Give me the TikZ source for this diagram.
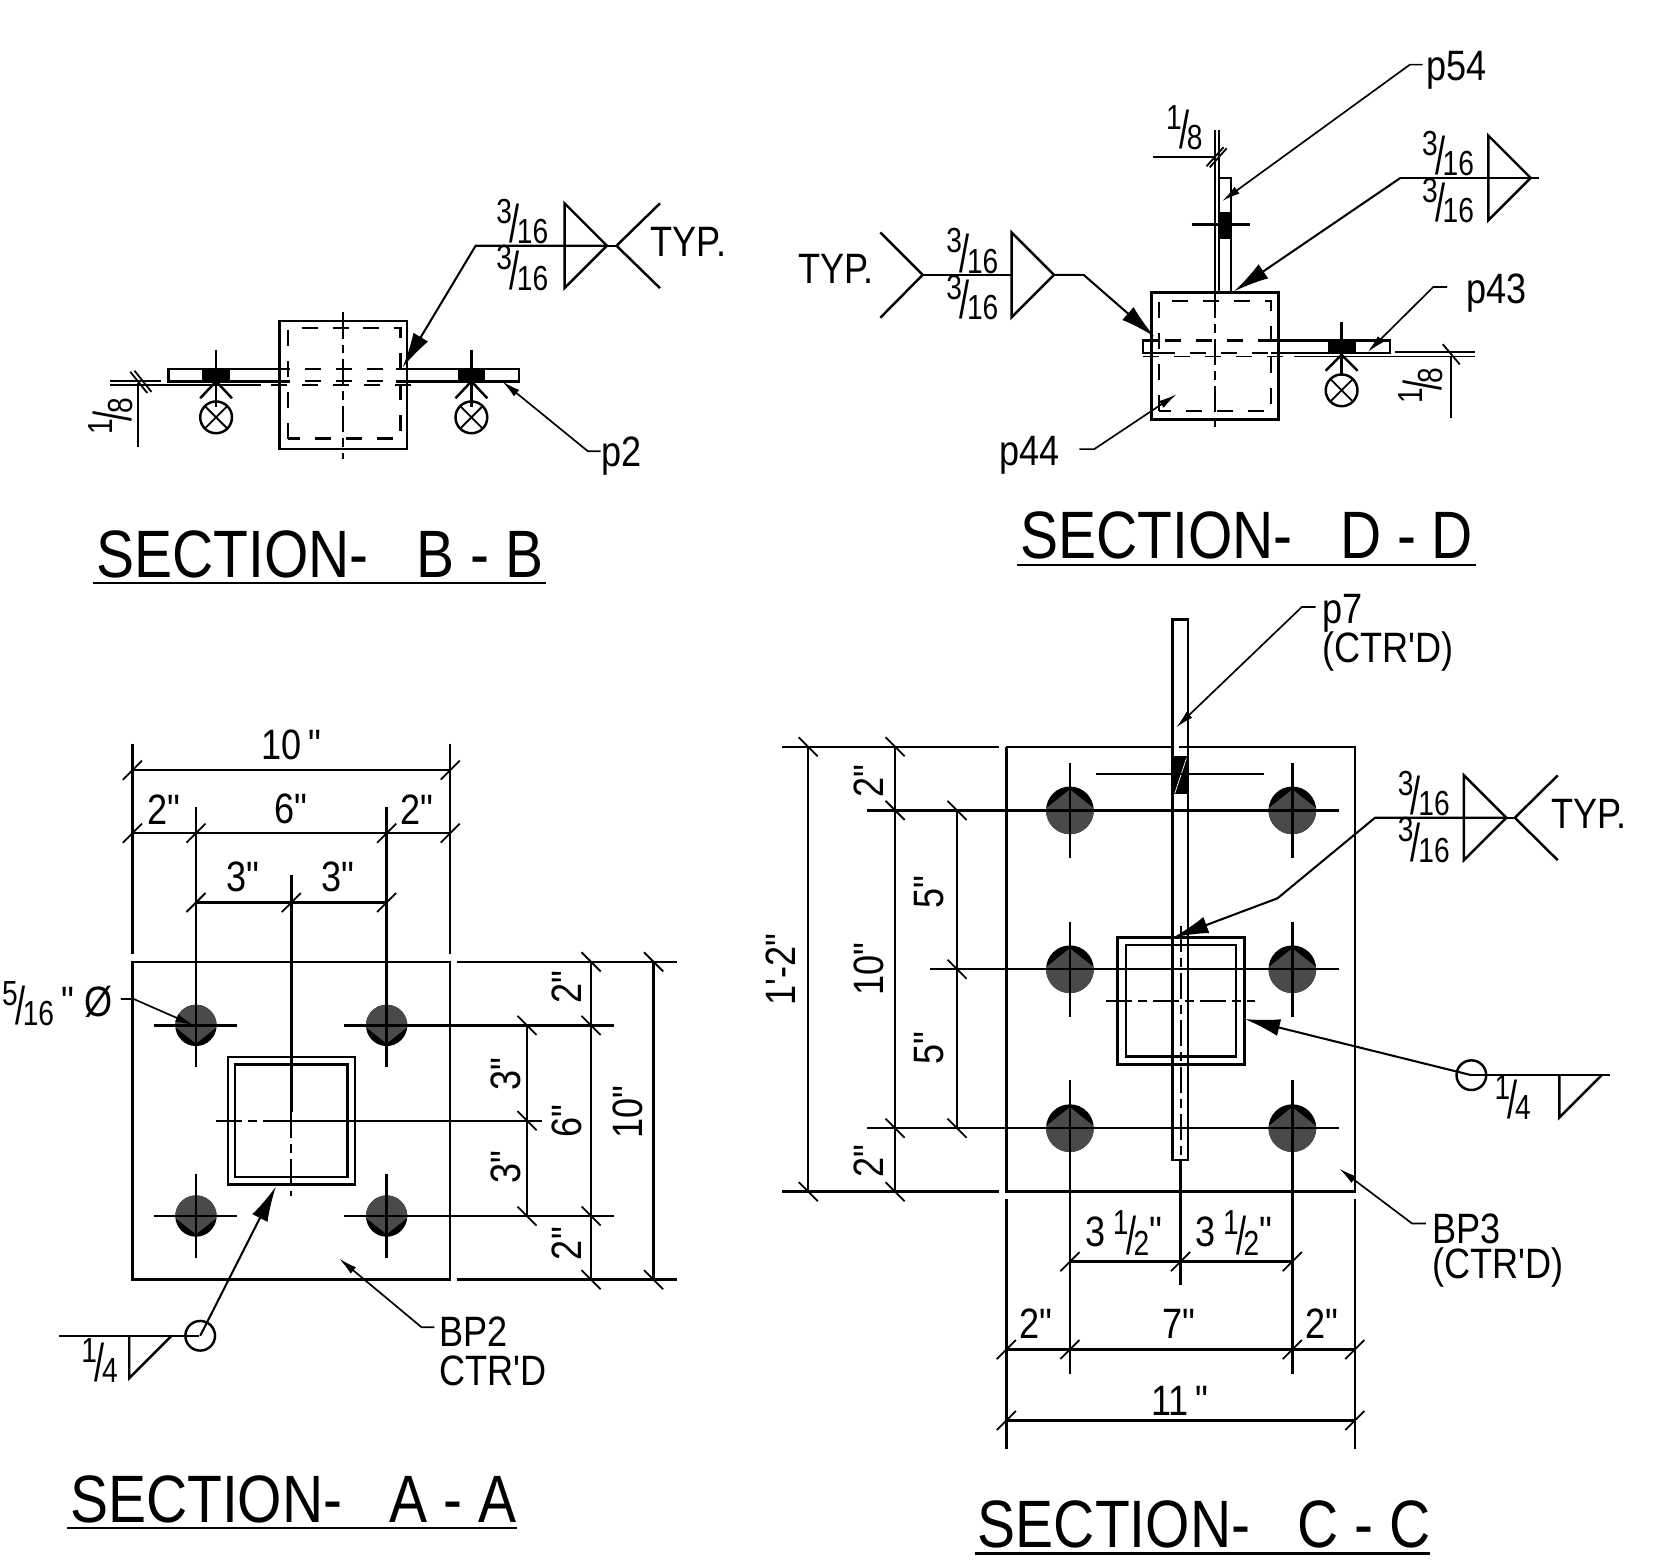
\documentclass[tikz,border=0pt]{standalone}
\usepackage{fontspec}
\setmainfont[FakeStretch=0.85,Ligatures=TeXOff]{Liberation Sans}
\usepackage{tikz,tkz-euclide}
\usetikzlibrary{arrows,arrows.meta,calc}
\definecolor{boltgrey}{rgb}{0.29, 0.29, 0.29}
\tikzset{
    cad/.style={line width=0.66pt,line cap=butt},
    fine/.style={line width=0.48pt},
    hidden/.style={line width=0.6pt,dash pattern=on 4.3pt off 4pt},
    centre/.style={line width=0.55pt,dash pattern=on 7pt off 1.6pt on 2.4pt off 1.6pt},
    bigtip/.style={line width=0.55pt,-{Latex[length=9.5pt,width=4.6pt]}},
    smalltip/.style={line width=0.45pt,-{Latex[length=5pt,width=2.2pt]}},
    dimtext/.style={inner sep=0pt,font=\fontsize{11.4}{12}\selectfont},
    titletext/.style={inner sep=0pt,anchor=base west,font=\fontsize{18}{20}\selectfont}
}
% dimension ticks: horizontal run and vertical run
\newcommand{\htick}[2]{\draw[fine] ({#1-9},{#2+9}) -- ({#1+9},{#2-9});}
\newcommand{\vtick}[2]{\draw[fine] ({#1-9},{#2-9}) -- ({#1+9},{#2+9});}
% weld size fraction
\newcommand{\wfrac}[2]{\rule[-.2em]{0pt}{.95em}\smash{\raisebox{.28em}{\scalebox{.78}[.82]{#1}}\kern-.06em\raisebox{-.17em}{\scalebox{1}[1.25]{/}}\kern-.06em\raisebox{-.2em}{\scalebox{.78}[.82]{#2}}}}
% bolt: x, y, radius, 1 = black at the foot, -1 = black at the head
\newcommand{\boltdisc}[4]{
    \begin{scope}[shift={(#1,#2)},yscale=#4]
        \fill[black] (0,0) circle[radius=#3];
        \fill[boltgrey] (5:#3) arc[start angle=5,end angle=-185,radius=#3] -- (0,{0.88*#3}) -- cycle;
    \end{scope}
}
% double fillet symbol: x of the upright, y of the reference line
\newcommand{\doublefillet}[2]{\draw[cad] (#1,{#2-40}) -- ({#1+40},#2) -- (#1,{#2+40}) -- cycle;}

\begin{document}
\begin{tikzpicture}[x=0.01cm,y=-0.01cm,cad]
    \useasboundingbox (0,0) rectangle (1568,1480);

    % ---- SECTION B-B
    \draw (264,303) rectangle (384,424);
    \draw[hidden] (272,414) -- (272,310) -- (378,310) -- (378,414) -- cycle;
    \draw[centre] (324,295) -- (324,433);
    \draw (274,348.5) -- (159,348.5) -- (159,360) -- (274,360);
    \draw (374,348.5) -- (490,348.5) -- (490,360) -- (374,360);
    \draw[hidden] (288,348.5) -- (374,348.5);
    \draw[hidden,line width=0.45pt] (288,359.5) -- (374,359.5);
    \draw[fine] (104,359.5) -- (152,359.5);
    \draw[fine] (104,363.5) -- (246,363.5);
    \draw[hidden,line width=0.45pt] (256,363.5) -- (396,363.5);
    \draw[fine] (123,351) -- (139,371) (127,350) -- (143,370);
    \draw[fine] (130,362) -- (130,422);
    \node[dimtext,rotate=90] (bbeighth) at (106,393) {\wfrac{1}{8}};
    \foreach \xp in {204,445}{
        \fill (\xp-13,348.5) rectangle (\xp+13,360);
        \draw (\xp,330) -- (\xp,384);
        \draw (\xp-15,376) -- (\xp,360) -- (\xp+15,376);
        \tkzDefPoint(\xp,394){Ba}
        \tkzDefPoint(\xp+15,394){Bb}
        \tkzDrawCircle[cad,color=black](Ba,Bb)
        \draw[fine] (\xp-10,384) -- (\xp+10,404) (\xp-10,404) -- (\xp+10,384);
    }
    \tkzDefPoints{380/347/Bs,449/232/Bt,574/232/Bu}
    \draw[bigtip] (Bu) -- (Bt) -- (Bs);
    \doublefillet{533}{232}
    \draw (574,232) -- (582,232);
    \draw (623,192) -- (582,232) -- (623,272);
    \node[dimtext] (bbup) at (493,211) {\wfrac{3}{16}};
    \node[dimtext] (bbdown) at (493,255) {\wfrac{3}{16}};
    \node[dimtext] (bbtyp) at (650,228) {TYP.};
    \tkzDefPoints{474/360/Bp,555/426/Bq,567/426/Br}
    \draw[smalltip] (Br) -- (Bq) -- (Bp);
    \node[dimtext] (bbpart) at (587,431) {p2};
    \node[titletext] (bbtitle) at (90,545) {SECTION-\ \ \ B - B};
    \draw (88,550.5) -- (515,550.5);

    % ---- SECTION D-D
    \draw (1087,276) rectangle (1207,396);
    \draw[hidden] (1094,388) -- (1094,284) -- (1200,284) -- (1200,388) -- cycle;
    \draw[centre] (1147,276) -- (1147,408);
    \draw[fine] (1147,123) -- (1147,276) (1150.5,123) -- (1150.5,276);
    \draw (1150.5,276) -- (1150.5,168) -- (1162,168) -- (1162,276);
    \fill (1150.5,200) rectangle (1162,226);
    \draw (1125,212) -- (1180,212);
    \draw[fine] (1088,148) -- (1147,148);
    \draw[fine] (1139,157) -- (1155,139) (1142,158) -- (1158,140);
    \node[dimtext] (ddeighth) at (1118,122) {\wfrac{1}{8}};
    \draw (1094,321.5) -- (1079,321.5) -- (1079,333.5) -- (1094,333.5);
    \draw (1200,321.5) -- (1312,321.5) -- (1312,333.5) -- (1200,333.5);
    \draw[hidden] (1100,321.5) -- (1200,321.5);
    \draw[hidden,line width=0.45pt] (1094,333) -- (1200,333);
    \draw[hidden,line width=0.45pt] (1079,336.5) -- (1222,336.5);
    \draw[fine] (1222,336.5) -- (1392,336.5);
    \draw[fine] (1317,332.5) -- (1392,332.5);
    \draw[fine] (1362,325) -- (1378,344);
    \draw[fine] (1369.5,336) -- (1369.5,395);
    \node[dimtext,rotate=90] (ddlow) at (1343,364) {\wfrac{1}{8}};
    \fill (1254,321.5) rectangle (1280,333.5);
    \draw (1266.5,304) -- (1266.5,355);
    \draw (1251.5,350) -- (1266.5,335) -- (1281.5,350);
    \tkzDefPoint(1266.5,368.5){Da}
    \tkzDefPoint(1281.5,368.5){Db}
    \tkzDrawCircle[cad,color=black](Da,Db)
    \draw[fine] (1256.5,358.5) -- (1276.5,378.5) (1256.5,378.5) -- (1276.5,358.5);
    \draw (1322,168) -- (1453,168);
    \doublefillet{1405}{168}
    \node[dimtext] (ddupa) at (1367,147) {\wfrac{3}{16}};
    \node[dimtext] (ddupb) at (1367,191) {\wfrac{3}{16}};
    \tkzDefPoints{1322/168/Dp,1165/275/Ds}
    \draw[bigtip] (Dp) -- (Ds);
    \tkzDefPoints{1153.5/190/Dt,1331/61/Du,1343/61/Dv}
    \draw[smalltip] (Dv) -- (Du) -- (Dt);
    \node[dimtext] (ddpa) at (1375,66) {p54};
    \tkzDefPoints{1291/332.5/Dw,1353/271/Dx,1366/271/Dy}
    \draw[smalltip] (Dy) -- (Dx) -- (Dw);
    \node[dimtext] (ddpb) at (1413,277) {p43};
    \tkzDefPoints{1111/372/Dz,1033/424/Ea,1019/424/Eb}
    \draw[smalltip] (Eb) -- (Ea) -- (Dz);
    \node[dimtext] (ddpc) at (972,430) {p44};
    \draw (831,219.5) -- (871,259.5) -- (831,300);
    \draw (871,259.5) -- (955,259.5);
    \doublefillet{955}{259.5}
    \tkzDefPoints{995/259.5/Ec,1023/259.5/Ed,1090/318/Ee}
    \draw[bigtip] (Ec) -- (Ed) -- (Ee);
    \node[dimtext] (ddlefta) at (918,239) {\wfrac{3}{16}};
    \node[dimtext] (ddleftb) at (918,283) {\wfrac{3}{16}};
    \node[dimtext] (ddtyp) at (789,254) {TYP.};
    \node[titletext] (ddtitle) at (962,527) {SECTION-\ \ \ D - D};
    \draw (960,533.5) -- (1393,533.5);

    % ---- SECTION A-A
    \draw (125,908) rectangle (425,1208);
    \foreach \xp in {185,365}{
        \foreach \yp in {968,1148}{
            \boltdisc{\xp}{\yp}{19.5}{1}
        }
    }
    \draw (215,998) rectangle (335,1118);
    \draw (222,1005) rectangle (328,1111);
    \draw (145,968) -- (224,968) (145,1148) -- (224,1148);
    \draw (325,968) -- (580,968) (325,1148) -- (580,1148);
    \draw (185,762) -- (185,1007) (365,762) -- (365,1007);
    \draw (185,1108) -- (185,1188) (365,1108) -- (365,1188);
    \draw (125,702) -- (125,901) (425,702) -- (425,901);
    \draw (275,826) -- (275,1050);
    \draw[centre] (275,1050) -- (275,1129);
    \draw[centre] (204,1058) -- (270,1058);
    \draw (270,1058) -- (512,1058);
    \draw (431,908) -- (639,908) (431,1208) -- (639,1208);
    \draw (125,727) -- (425,727) (125,786.5) -- (425,786.5) (185,852) -- (365,852);
    \draw (558,908) -- (558,1208) (617,908) -- (617,1208);
    \draw[fine] (497.5,968) -- (497.5,1148);
    \foreach \xp in {125,425}{\htick{\xp}{727}}
    \foreach \xp in {125,185,365,425}{\htick{\xp}{786.5}}
    \foreach \xp in {185,275,365}{\htick{\xp}{852}}
    \foreach \yp in {908,968,1148,1208}{\vtick{558}{\yp}}
    \foreach \yp in {908,1208}{\vtick{617}{\yp}}
    \foreach \yp in {968,1058,1148}{\vtick{497.5}{\yp}}
    \node[dimtext] (aaten) at (275,703) {10\,"};
    \node[dimtext] (aatwoa) at (155,764) {2"};
    \node[dimtext] (aasix) at (275,764) {6"};
    \node[dimtext] (aatwob) at (394,764) {2"};
    \node[dimtext] (aathreea) at (229,828) {3"};
    \node[dimtext] (aathreeb) at (319,828) {3"};
    \node[dimtext,rotate=90] (aatwoc) at (535,932) {2"};
    \node[dimtext,rotate=90] (aatwod) at (535,1174) {2"};
    \node[dimtext,rotate=90] (aathreec) at (478,1014) {3"};
    \node[dimtext,rotate=90] (aathreed) at (478,1102) {3"};
    \node[dimtext,rotate=90] (aasixb) at (535,1058) {6"};
    \node[dimtext,rotate=90] (aatenb) at (593,1050) {10"};
    \tkzDefPoints{114/943/Aa,126/943/Ab,183/968/Ac}
    \draw[smalltip] (Aa) -- (Ab) -- (Ac);
    \node[dimtext] (aahole) at (54,949) {\wfrac{5}{16}\,"\ \O};
    \draw (56,1261) -- (188,1261);
    \tkzDefPoint(189,1261){Ad}
    \tkzDefPoint(203,1261){Ae}
    \tkzDrawCircle[cad,color=black](Ad,Ae)
    \draw (122,1261) -- (122,1301) -- (162,1261);
    \tkzDefPoint(260.5,1120){Af}
    \draw[bigtip] (Ad) -- (Af);
    \node[dimtext] (aaweld) at (94,1286) {\wfrac{1}{4}};
    \tkzDefPoints{320/1188/Ag,398/1253/Ah,410/1253/Ai}
    \draw[smalltip] (Ai) -- (Ah) -- (Ag);
    \node[dimtext,anchor=west] (aaplate) at (414,1257) {BP2};
    \node[dimtext,anchor=west] (aactrd) at (414,1294) {CTR'D};
    \node[titletext] (aatitle) at (65,1437) {SECTION-\ \ \ A - A};
    \draw (63,1442.5) -- (488,1442.5);

    % ---- SECTION C-C
    \draw (950,705) -- (950,1125) -- (1279,1125) -- (1279,705) -- (1113,705);
    \draw (950,705) -- (1107,705);
    \foreach \xp in {1010,1220}{
        \foreach \yp in {765,915,1065}{
            \boltdisc{\xp}{\yp}{22.5}{-1}
        }
    }
    \draw (1107,585) rectangle (1121.7,1095);
    \fill (1106.3,714) rectangle (1122.4,750);
    \draw[line width=0.2pt,white] (1109,749) -- (1120,716);
    \draw[fine] (1035,731) -- (1193,731);
    \draw (1055,885) rectangle (1175,1005);
    \draw (1063,892) rectangle (1167,997.5);
    \draw[centre] (1114.5,874) -- (1114.5,1095);
    \draw[centre] (1044,945) -- (1185,945);
    \draw (818,765) -- (1264,765) (878,915) -- (1264,915) (818,1065) -- (1264,1065);
    \foreach \xp in {1010,1220}{
        \draw (\xp,720) -- (\xp,810);
        \draw (\xp,870) -- (\xp,960);
        \draw (\xp,1020) -- (\xp,1297);
    }
    \draw (1114.5,1095) -- (1114.5,1213);
    \draw (738,705) -- (943,705) (738,1125) -- (943,1125);
    \draw (763,705) -- (763,1125) (845,705) -- (845,1125) (903.5,765) -- (903.5,1065);
    \foreach \yp in {705,1125}{\vtick{763}{\yp}}
    \foreach \yp in {705,765,1065,1125}{\vtick{845}{\yp}}
    \foreach \yp in {765,915,1065}{\vtick{903.5}{\yp}}
    \draw (950,1132) -- (950,1368) (1279,1132) -- (1279,1368);
    \draw (1010,1191) -- (1220,1191) (950,1274) -- (1279,1274) (950,1341) -- (1279,1341);
    \foreach \xp in {1010,1114.5,1220}{\htick{\xp}{1191}}
    \foreach \xp in {950,1010,1220,1279}{\htick{\xp}{1274}}
    \foreach \xp in {950,1279}{\htick{\xp}{1341}}
    \node[dimtext,rotate=90] (ccfoot) at (737,915) {1'-2"};
    \node[dimtext,rotate=90] (cctwoa) at (820,737) {2"};
    \node[dimtext,rotate=90] (ccten) at (820,915) {10"};
    \node[dimtext,rotate=90] (cctwob) at (820,1096) {2"};
    \node[dimtext,rotate=90] (ccfivea) at (877,842) {5"};
    \node[dimtext,rotate=90] (ccfiveb) at (877,989) {5"};
    \node[dimtext] (cchalfa) at (1061,1166) {3\,\wfrac{1}{2}"};
    \node[dimtext] (cchalfb) at (1165,1166) {3\,\wfrac{1}{2}"};
    \node[dimtext] (cctwoc) at (978,1250) {2"};
    \node[dimtext] (ccseven) at (1113,1250) {7"};
    \node[dimtext] (cctwod) at (1248,1250) {2"};
    \node[dimtext] (cceleven) at (1114,1322) {11\,"};
    \doublefillet{1382}{772}
    \draw (1470.5,732) -- (1430,772) -- (1470.5,812);
    \draw (1422,772) -- (1430,772);
    \tkzDefPoints{1422/772/Ca,1298/772/Cb,1206/848/Cc,1107.5/885/Cd}
    \draw[bigtip] (Ca) -- (Cb) -- (Cc) -- (Cd);
    \node[dimtext] (ccupa) at (1344,751) {\wfrac{3}{16}};
    \node[dimtext] (ccupb) at (1344,795) {\wfrac{3}{16}};
    \node[dimtext] (cctyp) at (1500,768) {TYP.};
    \tkzDefPoint(1389,1015){Ce}
    \tkzDefPoint(1403,1015){Cf}
    \tkzDrawCircle[cad,color=black](Ce,Cf)
    \tkzDefPoint(1175,962){Cg}
    \draw[bigtip] (Ce) -- (Cg);
    \draw (1389,1015) -- (1520,1015);
    \draw (1472,1015) -- (1472,1055) -- (1512,1015);
    \node[dimtext] (ccweld) at (1428,1038) {\wfrac{1}{4}};
    \tkzDefPoints{1110/687/Ch,1229/573/Ci,1242/573/Cj}
    \draw[smalltip] (Cj) -- (Ci) -- (Ch);
    \node[dimtext,anchor=west] (ccpart) at (1247,579) {p7};
    \node[dimtext,anchor=west] (ccctrd) at (1247,615) {(CTR'D)};
    \tkzDefPoints{1264/1103/Ck,1333/1155/Cl,1346/1155/Cm}
    \draw[smalltip] (Cm) -- (Cl) -- (Ck);
    \node[dimtext,anchor=west] (ccplate) at (1351,1160) {BP3};
    \node[dimtext,anchor=west] (ccctrdb) at (1351,1197) {(CTR'D)};
    \node[titletext] (cctitle) at (922,1461) {SECTION-\ \ \ C - C};
    \draw (920,1466.5) -- (1350,1466.5);
\end{tikzpicture}
\end{document}
